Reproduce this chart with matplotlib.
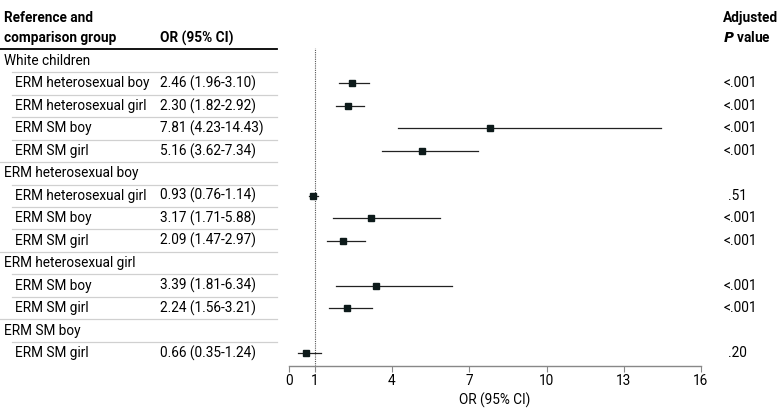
import matplotlib
matplotlib.use("Agg")
import matplotlib.pyplot as plt
from matplotlib.transforms import blended_transform_factory

plt.rcParams['font.family'] = ['Roboto', 'DejaVu Sans']

groups = ["White children", "ERM heterosexual boy", "ERM heterosexual girl", "ERM SM boy"]
comparisons = [
    ["ERM heterosexual boy", "ERM heterosexual girl", "ERM SM boy", "ERM SM girl"],
    ["ERM heterosexual girl", "ERM SM boy", "ERM SM girl"],
    ["ERM SM boy", "ERM SM girl"],
    ["ERM SM girl"],
]
or_vals = [[2.46, 2.30, 7.81, 5.16], [0.93, 3.17, 2.09], [3.39, 2.24], [0.66]]
ci_low = [[1.96, 1.82, 4.23, 3.62], [0.76, 1.71, 1.47], [1.81, 1.56], [0.35]]
ci_high = [[3.10, 2.92, 14.43, 7.34], [1.14, 5.88, 2.97], [6.34, 3.21], [1.24]]
p_vals = [["<.001", "<.001", "<.001", "<.001"], [".51", "<.001", "<.001"], ["<.001", "<.001"], [".20"]]
x_ticks = [0, 1, 4, 7, 10, 13, 16]

W, H = 780, 418
fig = plt.figure(figsize=(W / 100, H / 100), dpi=100)
ax = fig.add_axes([289 / W, (H - 366) / H, (701 - 289) / W, (366 - 48) / H])

row_h = 22.46
y_top = (48 - 61) / row_h
y_bot = (366 - 61) / row_h
ax.set_ylim(y_bot, y_top)
ax.set_xlim(0, 16)

for s in ["top", "right", "left"]:
    ax.spines[s].set_visible(False)
ax.spines["bottom"].set_color("#888888")
ax.spines["bottom"].set_linewidth(1.0)
ax.set_yticks([])
ax.set_xticks(x_ticks)
ax.set_xticklabels([str(t) for t in x_ticks])
ax.tick_params(axis="x", direction="out", length=4, color="#888888", labelsize=9.8, pad=2)
ax.set_xlabel("OR (95% CI)", fontsize=9.8, labelpad=3)

ax.axvline(1, color="#555555", linestyle=(0, (1, 1)), linewidth=0.8, ymin=0, ymax=1)

tr = blended_transform_factory(fig.transFigure, ax.transData)
fs = 9.8
xg = 4 / W
xs = 15 / W
xor = 160 / W
xline0 = 0
xline_ind = 12 / W
xline1 = 277 / W

row = 0
n_groups = len(groups)
for gi, g in enumerate(groups):
    fig.text(xg, row, g, transform=tr, fontsize=fs, va="center", ha="left")
    fig.add_artist(plt.Line2D([xline_ind, xline1], [row + 0.5, row + 0.5], transform=tr,
                              color="#d0d0d0", linewidth=0.9))
    row += 1
    n = len(comparisons[gi])
    for ci in range(n):
        o, lo, hi = or_vals[gi][ci], ci_low[gi][ci], ci_high[gi][ci]
        fig.text(xs, row, comparisons[gi][ci], transform=tr, fontsize=fs, va="center", ha="left")
        fig.text(xor, row, f"{o:.2f} ({lo:.2f}-{hi:.2f})", transform=tr, fontsize=fs,
                 va="center", ha="left")
        p = p_vals[gi][ci]
        px = 723 / W if p.startswith("<") else 728 / W
        fig.text(px, row, p, transform=tr, fontsize=fs, va="center", ha="left")
        ax.plot([lo, hi], [row, row], color="#222222", linewidth=0.9, zorder=2)
        ax.plot([o], [row], marker="s", markersize=5.0, color="#0d1a1a", zorder=3)
        last_in_group = ci == n - 1
        if not (last_in_group and gi == n_groups - 1):
            x0 = xline0 if last_in_group else xline_ind
            fig.add_artist(plt.Line2D([x0, xline1], [row + 0.5, row + 0.5], transform=tr,
                                      color="#d0d0d0", linewidth=0.9))
        row += 1

fig.text(4 / W, 1 - 18 / H, "Reference and", fontsize=fs, fontweight="bold", va="center", ha="left")
fig.text(4 / W, 1 - 38 / H, "comparison group", fontsize=fs, fontweight="bold", va="center", ha="left")
fig.text(160 / W, 1 - 38 / H, "OR (95% CI)", fontsize=fs, fontweight="bold", va="center", ha="left")
fig.add_artist(plt.Line2D([0, xline1], [1 - 48.5 / H, 1 - 48.5 / H], transform=fig.transFigure,
                          color="black", linewidth=1.3))
fig.text(723 / W, 1 - 18 / H, "Adjusted", fontsize=fs, fontweight="bold", va="center", ha="left")
fig.text(723 / W, 1 - 38 / H, r"$\bfit{P}$" + " value", fontsize=fs, fontweight="bold",
         va="center", ha="left")

fig.savefig("out.png", dpi=100)
